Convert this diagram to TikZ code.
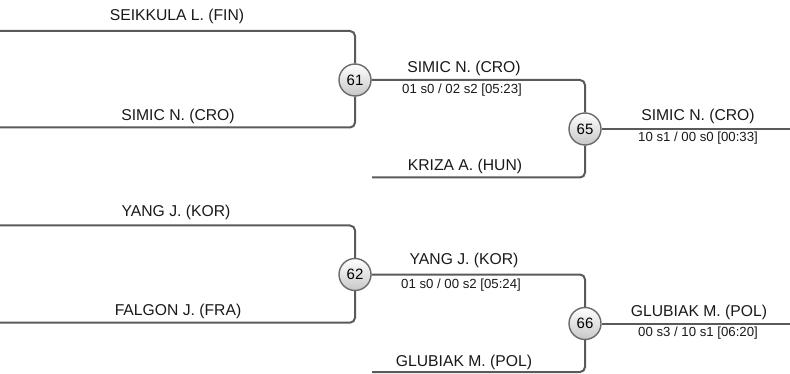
\documentclass[tikz,border=0pt]{standalone}
\usepackage{fontspec}
\setmainfont{Liberation Sans}
\usepackage{tikz}
\usetikzlibrary{positioning}

\definecolor{linegray}{HTML}{5A5A5A}
\definecolor{ringgray}{HTML}{6A6A6A}

\begin{document}
\begin{tikzpicture}[
		% 以像素为单位，y 轴向下
		x=1pt, y=-1pt,
		bracket/.style={draw=linegray, line width=2pt, rounded corners=5pt},   % 对阵连线
		match/.style={circle, draw=ringgray, line width=1.4pt, minimum size=32pt, inner sep=0pt,
			top color=white, bottom color=black!22, font=\fontsize{15}{15}\selectfont}, % 场次圆圈
		player/.style={anchor=base, font=\fontsize{15.7}{16}\selectfont, text=black!90}, % 选手名
		score/.style={anchor=base, font=\fontsize{13.2}{14}\selectfont, text=black!90}    % 比分
		]
		\useasboundingbox (0,0) rectangle (790,374);
		
		% 场次
		\node[match] (m61) at (355,80) {61};
		\node[match] (m65) at (585,129) {65};
		\node[match] (m62) at (355,274.5) {62};
		\node[match] (m66) at (585,323.5) {66};
		
		% 线的自由端
		\coordinate (a1) at (0,31);
		\coordinate (a2) at (0,127.5);
		\coordinate (k65) at (372,177.5);
		\coordinate (f65) at (790,129);
		\coordinate (a3) at (0,225.5);
		\coordinate (a4) at (0,322.7);
		\coordinate (k66) at (372,372);
		\coordinate (f66) at (790,323.5);
		
		\draw[bracket] (a1) -| (m61);
		\draw[bracket] (a2) -| (m61);
		\draw[bracket] (m61) -| (m65);
		\draw[bracket] (k65) -| (m65);
		\draw[bracket] (m65) -- (f65);
		
		\draw[bracket] (a3) -| (m62);
		\draw[bracket] (a4) -| (m62);
		\draw[bracket] (m62) -| (m66);
		\draw[bracket] (k66) -| (m66);
		\draw[bracket] (m66) -- (f66);
		
		% 选手与比分
		\node[player] (seikkula) at (177,21) {SEIKKULA L. (FIN)};
		\node[player] (simic1) at (178,121) {SIMIC N. (CRO)};
		\node[player] (simic2) at (464,73) {SIMIC N. (CRO)};
		\node[score] (s61) at (462,93.5) {01 s0 / 02 s2 [05:23]};
		\node[player] (kriza) at (465,171) {KRIZA A. (HUN)};
		\node[player] (simic3) at (698,121) {SIMIC N. (CRO)};
		\node[score] (s65) at (698,141.5) {10 s1 / 00 s0 [00:33]};
		
		\node[player] (yang1) at (176,216.5) {YANG J. (KOR)};
		\node[player] (falgon) at (178,315) {FALGON J. (FRA)};
		\node[player] (yang2) at (464,265) {YANG J. (KOR)};
		\node[score] (s62) at (461,288.5) {01 s0 / 00 s2 [05:24]};
		\node[player] (glubiak1) at (464,366.7) {GLUBIAK M. (POL)};
		\node[player] (glubiak2) at (699,316.7) {GLUBIAK M. (POL)};
		\node[score] (s66) at (698,336) {00 s3 / 10 s1 [06:20]};
	\end{tikzpicture}
\end{document}
